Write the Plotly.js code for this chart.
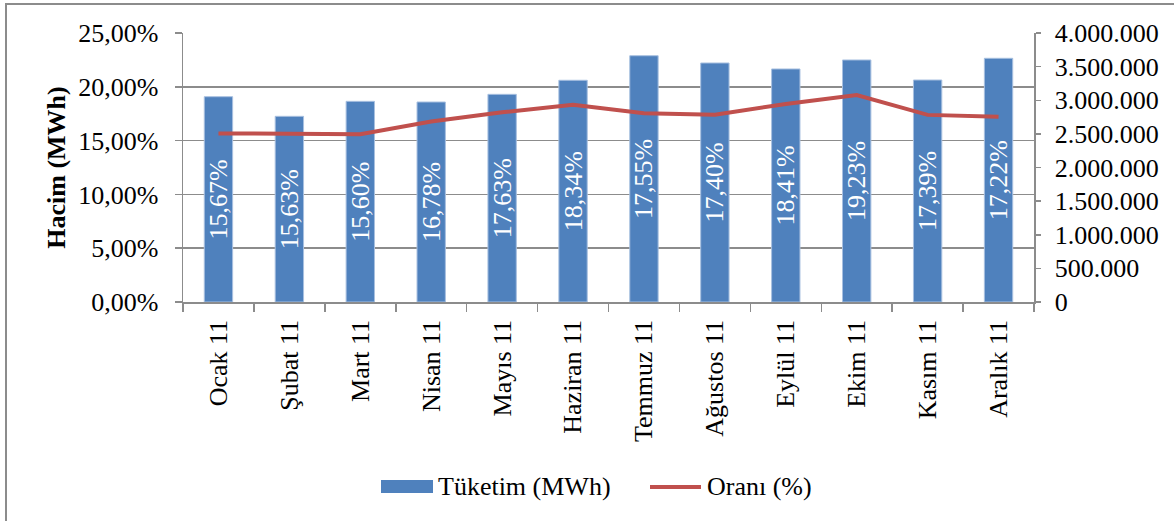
<!DOCTYPE html>
<html>
<head>
<meta charset="utf-8">
<script src="https://cdn.plot.ly/plotly-3.0.1.min.js"></script>
<style>
html,body{margin:0;padding:0;background:#fff;}
#wrap{position:relative;width:1174px;height:521px;}
#chart{width:1174px;height:521px;}
#frame{position:absolute;left:5px;top:3px;width:1180px;height:530px;border-left:2px solid #8c8c8c;border-top:2px solid #8c8c8c;pointer-events:none;}
</style>
</head>
<body>
<div id="wrap"><div id="chart"></div><div id="frame"></div></div>
<script>
const months = ['Ocak 11','Şubat 11','Mart 11','Nisan 11','Mayıs 11','Haziran 11','Temmuz 11','Ağustos 11','Eylül 11','Ekim 11','Kasım 11','Aralık 11'];
const consumption = [3053000, 2761000, 2984000, 2974000, 3088000, 3297000, 3662000, 3554000, 3465000, 3599000, 3301000, 3624000];
const ratio = [15.67, 15.63, 15.60, 16.78, 17.63, 18.34, 17.55, 17.40, 18.41, 19.23, 17.39, 17.22];
const legendNames = ['Tüketim (MWh)', 'Oranı (%)'];

const FONT = '"Liberation Serif", "DejaVu Serif", serif';
const FS = 26;
const GRAY = '#8c8c8c';
const BLUE = '#4F81BD';
const RED = '#C0504D';

const labels = ratio.map(v => v.toFixed(2).replace('.', ',') + '%');

const bars = {
  type: 'bar', x: months, y: consumption, yaxis: 'y', xaxis: 'x',
  name: legendNames[0],
  marker: {color: BLUE, line: {color: '#a8c0e0', width: 1}},
  text: labels, textposition: 'inside', insidetextanchor: 'middle',
  textangle: -90, constraintext: 'none',
  textfont: {family: FONT, size: FS, color: '#ffffff'},
  hoverinfo: 'x+y', showlegend: false
};
const line = {
  type: 'scatter', mode: 'lines', x: months, y: ratio, yaxis: 'y2', xaxis: 'x',
  name: legendNames[1],
  line: {color: RED, width: 4},
  showlegend: false
};

const L = 183, R = 1034, T = 33, B = 302;
const px = v => (v - L) / (R - L);
const py = v => (B - v) / (B - T);

const layout = {
  width: 1174, height: 521,
  margin: {l: L, r: 1174 - R, t: T, b: 521 - B},
  paper_bgcolor: '#fff', plot_bgcolor: 'rgba(0,0,0,0)',
  separators: ',.',
  bargap: 0.6,
  font: {family: FONT, size: FS, color: '#000'},
  xaxis: {
    type: 'category', showline: true, linecolor: GRAY, linewidth: 1.5,
    ticks: 'outside', tickson: 'boundaries', ticklen: 8, tickcolor: GRAY, tickwidth: 1.5,
    tickangle: -90, tickfont: {family: FONT, size: FS, color: '#000'},
    showgrid: false, zeroline: false, ticklabelstandoff: 6
  },
  yaxis: {
    side: 'right', range: [0, 4000000], dtick: 500000, tickformat: ',d',
    showline: true, linecolor: GRAY, linewidth: 1.5,
    ticks: 'outside', ticklen: 5, tickcolor: GRAY, tickwidth: 1.5,
    showgrid: false, zeroline: false, ticklabelstandoff: 9,
    tickfont: {family: FONT, size: FS, color: '#000'}
  },
  yaxis2: {
    side: 'left', overlaying: 'y', range: [0, 25], dtick: 5, tickformat: '.2f', ticksuffix: '%',
    showline: true, linecolor: GRAY, linewidth: 1.5,
    ticks: 'outside', ticklen: 7, tickcolor: GRAY, tickwidth: 1.5,
    showgrid: true, gridcolor: GRAY, gridwidth: 1.5, zeroline: false, ticklabelstandoff: 11,
    tickfont: {family: FONT, size: FS, color: '#000'},
    title: {text: '<b>Hacim (MWh)</b>', font: {family: FONT, size: FS, color: '#000'}, standoff: 5}
  },
  shapes: [
    {type: 'rect', xref: 'paper', yref: 'paper', x0: px(381), x1: px(433), y0: py(493), y1: py(480),
     fillcolor: BLUE, line: {width: 0}},
    {type: 'line', xref: 'paper', yref: 'paper', x0: px(650), x1: px(701), y0: py(487), y1: py(487),
     line: {color: RED, width: 4}}
  ],
  annotations: [
    {xref: 'paper', yref: 'paper', x: px(436), y: py(487), xanchor: 'left', yanchor: 'middle',
     text: legendNames[0], showarrow: false, font: {family: FONT, size: FS, color: '#000'}},
    {xref: 'paper', yref: 'paper', x: px(705), y: py(487), xanchor: 'left', yanchor: 'middle',
     text: legendNames[1], showarrow: false, font: {family: FONT, size: FS, color: '#000'}}
  ]
};

Plotly.newPlot('chart', [bars, line], layout, {displayModeBar: false, staticPlot: true});
</script>
</body>
</html>
